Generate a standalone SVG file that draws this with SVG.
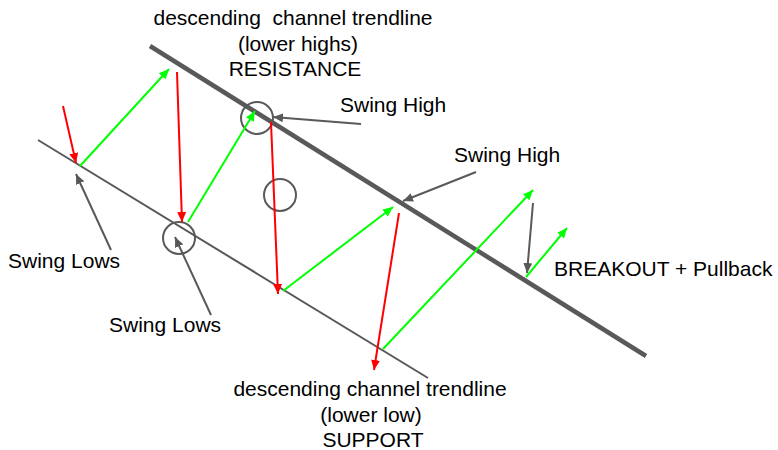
<svg xmlns="http://www.w3.org/2000/svg" width="778" height="450" viewBox="0 0 778 450">
  <style>
    text { font-family: "Liberation Sans", Arial, sans-serif; font-size: 21px; fill: #000; }
    .mid { text-anchor: middle; }
    .pre { white-space: pre; }
    .trend { stroke: #595959; fill: none; stroke-linecap: butt; }
    .red { stroke: #ff0000; stroke-width: 2; fill: none; marker-end: url(#ahRed); }
    .green { stroke: #00ff00; stroke-width: 2; fill: none; marker-end: url(#ahGreen); }
    .gray { stroke: #595959; stroke-width: 2; fill: none; marker-end: url(#ahGray); }
    .ring { stroke: #595959; stroke-width: 2; fill: none; }
  </style>
  <defs>
    <marker id="ahRed" markerUnits="userSpaceOnUse" markerWidth="11" markerHeight="10" refX="10" refY="4.5" orient="auto">
      <path d="M0,0 L10,4.5 L0,9 z" fill="#ff0000"/>
    </marker>
    <marker id="ahGreen" markerUnits="userSpaceOnUse" markerWidth="11" markerHeight="10" refX="10" refY="4.5" orient="auto">
      <path d="M0,0 L10,4.5 L0,9 z" fill="#00ff00"/>
    </marker>
    <marker id="ahGray" markerUnits="userSpaceOnUse" markerWidth="11" markerHeight="10" refX="10" refY="4.5" orient="auto">
      <path d="M0,0 L10,4.5 L0,9 z" fill="#595959"/>
    </marker>
  </defs>
  <rect width="778" height="450" fill="#ffffff"/>

  <g id="trendlines">
    <line id="resistance-line" class="trend" x1="150" y1="46" x2="646" y2="356" stroke-width="4.5"/>
    <line id="support-line" class="trend" x1="38" y1="140" x2="428" y2="378" stroke-width="2"/>
  </g>

  <g id="circles">
    <g id="circle-swing-high"><circle class="ring" cx="257" cy="118" r="16"/></g>
    <g id="circle-middle"><circle class="ring" cx="280" cy="195" r="16"/></g>
    <g id="circle-swing-low"><circle class="ring" cx="179" cy="238" r="16"/></g>
  </g>

  <g id="connectors">
    <line class="red" x1="63" y1="106" x2="76" y2="163"/>
    <line class="red" x1="177" y1="72" x2="182" y2="222"/>
    <line class="red" x1="271" y1="122" x2="278" y2="294"/>
    <line class="red" x1="399" y1="213" x2="374" y2="370"/>

    <line class="green" x1="80" y1="166" x2="169" y2="69"/>
    <line class="green" x1="188" y1="222" x2="255" y2="111"/>
    <line class="green" x1="283" y1="291" x2="393" y2="207"/>
    <line class="green" x1="383" y1="349" x2="533" y2="190"/>
    <line class="green" x1="526" y1="277" x2="567" y2="228"/>

    <line class="gray" x1="361" y1="124" x2="273" y2="117"/>
    <line class="gray" x1="476" y1="172" x2="403" y2="201"/>
    <line class="gray" x1="533" y1="203" x2="527" y2="273"/>
    <line class="gray" x1="111" y1="250" x2="76" y2="174"/>
    <line class="gray" x1="211" y1="315" x2="175" y2="237"/>
  </g>

  <g id="label-resistance">
    <text class="mid pre" x="293" y="25" xml:space="preserve">descending  channel trendline</text>
    <text class="mid" x="298" y="51">(lower highs)</text>
    <text class="mid" x="295" y="76">RESISTANCE</text>
  </g>
  <g id="label-swing-high-1"><text x="340" y="112">Swing High</text></g>
  <g id="label-swing-high-2"><text x="454" y="162">Swing High</text></g>
  <g id="label-breakout"><text x="554" y="276">BREAKOUT + Pullback</text></g>
  <g id="label-swing-lows-1"><text x="8" y="268">Swing Lows</text></g>
  <g id="label-swing-lows-2"><text x="109" y="332">Swing Lows</text></g>
  <g id="label-support">
    <text class="mid" x="370" y="396">descending channel trendline</text>
    <text class="mid" x="371" y="422">(lower low)</text>
    <text class="mid" x="373" y="447">SUPPORT</text>
  </g>
</svg>
